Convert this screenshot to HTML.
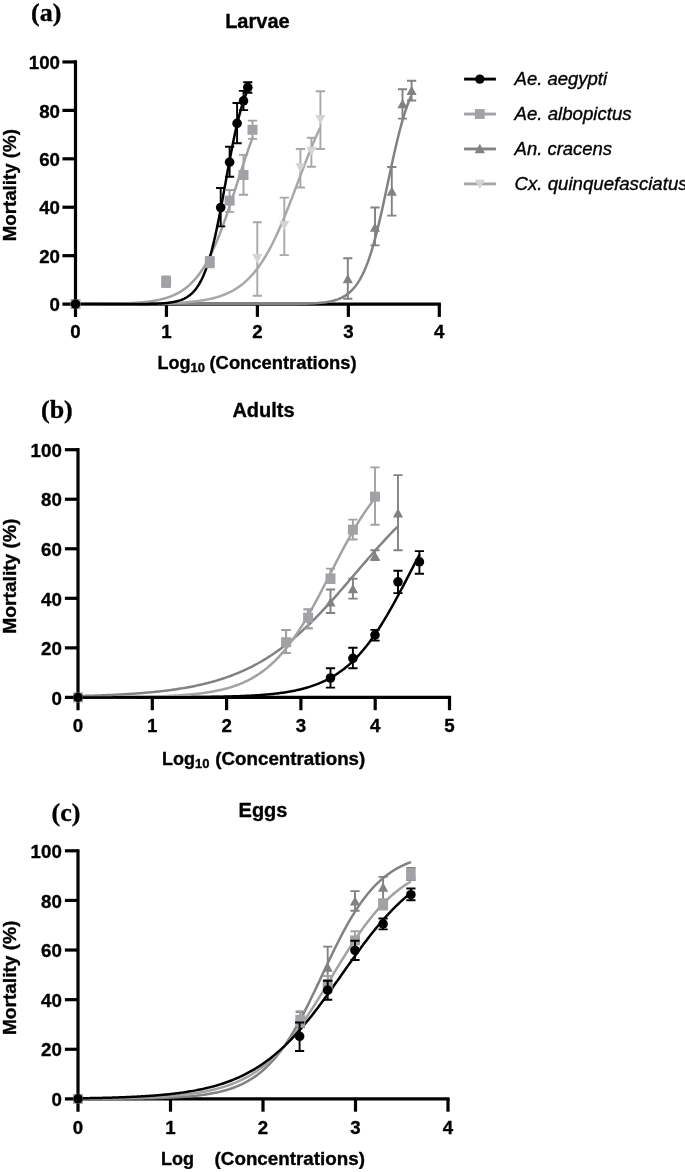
<!DOCTYPE html>
<html><head><meta charset="utf-8"><style>
html,body{margin:0;padding:0;background:#fff;width:685px;height:1172px;overflow:hidden}
svg{display:block}
</style></head><body>
<svg width="685" height="1172" viewBox="0 0 685 1172">
<rect width="685" height="1172" fill="#fff"/>
<path d="M75.50,60.35 V316.90" stroke="#000" stroke-width="3.2" fill="none"/>
<path d="M62.40,304.10 H440.90" stroke="#000" stroke-width="3.2" fill="none"/>
<path d="M62.40,255.67 H75.50" stroke="#000" stroke-width="3.2" fill="none"/>
<path d="M62.40,207.24 H75.50" stroke="#000" stroke-width="3.2" fill="none"/>
<path d="M62.40,158.81 H75.50" stroke="#000" stroke-width="3.2" fill="none"/>
<path d="M62.40,110.38 H75.50" stroke="#000" stroke-width="3.2" fill="none"/>
<path d="M62.40,61.95 H75.50" stroke="#000" stroke-width="3.2" fill="none"/>
<path d="M166.45,304.10 V316.90" stroke="#000" stroke-width="3.2" fill="none"/>
<path d="M257.40,304.10 V316.90" stroke="#000" stroke-width="3.2" fill="none"/>
<path d="M348.35,304.10 V316.90" stroke="#000" stroke-width="3.2" fill="none"/>
<path d="M439.30,304.10 V316.90" stroke="#000" stroke-width="3.2" fill="none"/>
<path d="M75.50,304.10 L76.90,304.10 L78.30,304.10 L79.70,304.10 L81.09,304.10 L82.49,304.10 L83.89,304.10 L85.29,304.10 L86.69,304.10 L88.09,304.10 L89.48,304.10 L90.88,304.10 L92.28,304.10 L93.68,304.10 L95.08,304.10 L96.48,304.10 L97.87,304.10 L99.27,304.10 L100.67,304.10 L102.07,304.10 L103.47,304.10 L104.87,304.10 L106.26,304.10 L107.66,304.10 L109.06,304.10 L110.46,304.10 L111.86,304.10 L113.26,304.10 L114.65,304.10 L116.05,304.10 L117.45,304.10 L118.85,304.10 L120.25,304.10 L121.65,304.10 L123.04,304.10 L124.44,304.10 L125.84,304.10 L127.24,304.10 L128.64,304.10 L130.04,304.10 L131.43,304.10 L132.83,304.10 L134.23,304.10 L135.63,304.10 L137.03,304.10 L138.43,304.10 L139.82,304.10 L141.22,304.10 L142.62,304.10 L144.02,304.10 L145.42,304.10 L146.82,304.10 L148.21,304.10 L149.61,304.10 L151.01,304.10 L152.41,304.10 L153.81,304.10 L155.21,304.10 L156.60,304.10 L158.00,304.10 L159.40,304.10 L160.80,304.10 L162.20,304.10 L163.60,304.10 L164.99,304.10 L166.39,304.10 L167.79,304.10 L169.19,304.10 L170.59,304.10 L171.99,304.10 L173.38,304.10 L174.78,304.10 L176.18,304.10 L177.58,304.10 L178.98,304.10 L180.38,304.10 L181.78,304.10 L183.17,304.10 L184.57,304.10 L185.97,304.10 L187.37,304.10 L188.77,304.10 L190.17,304.10 L191.56,304.10 L192.96,304.10 L194.36,304.10 L195.76,304.10 L197.16,304.10 L198.56,304.10 L199.95,304.10 L201.35,304.10 L202.75,304.10 L204.15,304.10 L205.55,304.10 L206.95,304.10 L208.34,304.10 L209.74,304.10 L211.14,304.10 L212.54,304.10 L213.94,304.10 L215.34,304.10 L216.73,304.10 L218.13,304.10 L219.53,304.10 L220.93,304.10 L222.33,304.10 L223.73,304.10 L225.12,304.10 L226.52,304.10 L227.92,304.10 L229.32,304.10 L230.72,304.10 L232.12,304.10 L233.51,304.10 L234.91,304.10 L236.31,304.10 L237.71,304.10 L239.11,304.10 L240.51,304.10 L241.90,304.10 L243.30,304.10 L244.70,304.10 L246.10,304.10 L247.50,304.10 L248.90,304.10 L250.29,304.09 L251.69,304.09 L253.09,304.09 L254.49,304.09 L255.89,304.09 L257.29,304.09 L258.68,304.09 L260.08,304.09 L261.48,304.09 L262.88,304.09 L264.28,304.08 L265.68,304.08 L267.07,304.08 L268.47,304.08 L269.87,304.08 L271.27,304.07 L272.67,304.07 L274.07,304.07 L275.46,304.06 L276.86,304.06 L278.26,304.05 L279.66,304.05 L281.06,304.04 L282.46,304.03 L283.86,304.03 L285.25,304.02 L286.65,304.01 L288.05,304.00 L289.45,303.99 L290.85,303.97 L292.25,303.96 L293.64,303.94 L295.04,303.93 L296.44,303.91 L297.84,303.88 L299.24,303.86 L300.64,303.83 L302.03,303.80 L303.43,303.76 L304.83,303.73 L306.23,303.68 L307.63,303.63 L309.03,303.58 L310.42,303.52 L311.82,303.46 L313.22,303.38 L314.62,303.30 L316.02,303.21 L317.42,303.10 L318.81,302.99 L320.21,302.86 L321.61,302.72 L323.01,302.56 L324.41,302.39 L325.81,302.19 L327.20,301.97 L328.60,301.73 L330.00,301.46 L331.40,301.16 L332.80,300.83 L334.20,300.46 L335.59,300.04 L336.99,299.59 L338.39,299.08 L339.79,298.51 L341.19,297.88 L342.59,297.19 L343.98,296.42 L345.38,295.56 L346.78,294.62 L348.18,293.57 L349.58,292.42 L350.98,291.15 L352.37,289.74 L353.77,288.20 L355.17,286.50 L356.57,284.63 L357.97,282.59 L359.37,280.35 L360.76,277.91 L362.16,275.26 L363.56,272.37 L364.96,269.24 L366.36,265.86 L367.76,262.21 L369.15,258.30 L370.55,254.11 L371.95,249.65 L373.35,244.91 L374.75,239.90 L376.15,234.62 L377.54,229.10 L378.94,223.34 L380.34,217.37 L381.74,211.21 L383.14,204.89 L384.54,198.45 L385.94,191.92 L387.33,185.33 L388.73,178.73 L390.13,172.16 L391.53,165.65 L392.93,159.24 L394.33,152.97 L395.72,146.86 L397.12,140.95 L398.52,135.26 L399.92,129.81 L401.32,124.62 L402.72,119.69 L404.11,115.03 L405.51,110.65 L406.91,106.54 L408.31,102.71 L409.71,99.15 L411.11,95.84" fill="none" stroke="#828282" stroke-width="2.5" stroke-linejoin="round"/>
<path d="M75.50,304.09 L76.52,304.08 L77.54,304.08 L78.56,304.08 L79.58,304.08 L80.60,304.08 L81.62,304.08 L82.64,304.08 L83.66,304.08 L84.67,304.08 L85.69,304.08 L86.71,304.08 L87.73,304.07 L88.75,304.07 L89.77,304.07 L90.79,304.07 L91.81,304.07 L92.83,304.07 L93.85,304.07 L94.87,304.07 L95.89,304.06 L96.91,304.06 L97.93,304.06 L98.95,304.06 L99.97,304.06 L100.98,304.06 L102.00,304.05 L103.02,304.05 L104.04,304.05 L105.06,304.05 L106.08,304.04 L107.10,304.04 L108.12,304.04 L109.14,304.04 L110.16,304.03 L111.18,304.03 L112.20,304.03 L113.22,304.02 L114.24,304.02 L115.26,304.02 L116.28,304.01 L117.30,304.01 L118.31,304.00 L119.33,304.00 L120.35,304.00 L121.37,303.99 L122.39,303.99 L123.41,303.98 L124.43,303.97 L125.45,303.97 L126.47,303.96 L127.49,303.96 L128.51,303.95 L129.53,303.94 L130.55,303.94 L131.57,303.93 L132.59,303.92 L133.61,303.91 L134.63,303.90 L135.64,303.90 L136.66,303.89 L137.68,303.88 L138.70,303.87 L139.72,303.86 L140.74,303.84 L141.76,303.83 L142.78,303.82 L143.80,303.81 L144.82,303.80 L145.84,303.78 L146.86,303.77 L147.88,303.75 L148.90,303.74 L149.92,303.72 L150.94,303.70 L151.95,303.68 L152.97,303.66 L153.99,303.65 L155.01,303.62 L156.03,303.60 L157.05,303.58 L158.07,303.56 L159.09,303.53 L160.11,303.51 L161.13,303.48 L162.15,303.45 L163.17,303.42 L164.19,303.39 L165.21,303.36 L166.23,303.32 L167.25,303.29 L168.27,303.25 L169.28,303.21 L170.30,303.17 L171.32,303.13 L172.34,303.09 L173.36,303.04 L174.38,302.99 L175.40,302.94 L176.42,302.89 L177.44,302.84 L178.46,302.78 L179.48,302.72 L180.50,302.66 L181.52,302.59 L182.54,302.52 L183.56,302.45 L184.58,302.38 L185.59,302.30 L186.61,302.22 L187.63,302.13 L188.65,302.04 L189.67,301.95 L190.69,301.86 L191.71,301.75 L192.73,301.65 L193.75,301.54 L194.77,301.42 L195.79,301.30 L196.81,301.18 L197.83,301.04 L198.85,300.91 L199.87,300.76 L200.89,300.61 L201.91,300.46 L202.92,300.29 L203.94,300.12 L204.96,299.95 L205.98,299.76 L207.00,299.57 L208.02,299.36 L209.04,299.15 L210.06,298.93 L211.08,298.70 L212.10,298.46 L213.12,298.21 L214.14,297.95 L215.16,297.68 L216.18,297.39 L217.20,297.09 L218.22,296.78 L219.24,296.46 L220.25,296.13 L221.27,295.77 L222.29,295.41 L223.31,295.03 L224.33,294.63 L225.35,294.22 L226.37,293.79 L227.39,293.34 L228.41,292.87 L229.43,292.38 L230.45,291.88 L231.47,291.35 L232.49,290.80 L233.51,290.23 L234.53,289.63 L235.55,289.02 L236.56,288.37 L237.58,287.71 L238.60,287.01 L239.62,286.29 L240.64,285.54 L241.66,284.76 L242.68,283.96 L243.70,283.12 L244.72,282.25 L245.74,281.35 L246.76,280.41 L247.78,279.44 L248.80,278.44 L249.82,277.40 L250.84,276.32 L251.86,275.21 L252.88,274.05 L253.89,272.86 L254.91,271.63 L255.93,270.36 L256.95,269.04 L257.97,267.69 L258.99,266.29 L260.01,264.84 L261.03,263.35 L262.05,261.82 L263.07,260.25 L264.09,258.62 L265.11,256.96 L266.13,255.24 L267.15,253.48 L268.17,251.67 L269.19,249.82 L270.21,247.92 L271.22,245.98 L272.24,243.99 L273.26,241.95 L274.28,239.87 L275.30,237.75 L276.32,235.58 L277.34,233.37 L278.36,231.12 L279.38,228.83 L280.40,226.50 L281.42,224.13 L282.44,221.73 L283.46,219.29 L284.48,216.82 L285.50,214.32 L286.52,211.79 L287.53,209.23 L288.55,206.65 L289.57,204.04 L290.59,201.42 L291.61,198.77 L292.63,196.12 L293.65,193.44 L294.67,190.76 L295.69,188.07 L296.71,185.38 L297.73,182.68 L298.75,179.99 L299.77,177.30 L300.79,174.61 L301.81,171.93 L302.83,169.26 L303.85,166.61 L304.86,163.97 L305.88,161.35 L306.90,158.75 L307.92,156.17 L308.94,153.62 L309.96,151.10 L310.98,148.60 L312.00,146.14 L313.02,143.71 L314.04,141.32 L315.06,138.96 L316.08,136.64 L317.10,134.36 L318.12,132.12 L319.14,129.92 L320.16,127.76" fill="none" stroke="#a8a8a8" stroke-width="2.5" stroke-linejoin="round"/>
<path d="M75.50,304.04 L76.24,304.04 L76.98,304.04 L77.72,304.03 L78.46,304.03 L79.19,304.03 L79.93,304.03 L80.67,304.02 L81.41,304.02 L82.15,304.02 L82.89,304.01 L83.63,304.01 L84.37,304.01 L85.11,304.00 L85.85,304.00 L86.58,303.99 L87.32,303.99 L88.06,303.99 L88.80,303.98 L89.54,303.98 L90.28,303.97 L91.02,303.97 L91.76,303.96 L92.50,303.96 L93.24,303.95 L93.97,303.95 L94.71,303.94 L95.45,303.93 L96.19,303.93 L96.93,303.92 L97.67,303.91 L98.41,303.91 L99.15,303.90 L99.89,303.89 L100.62,303.88 L101.36,303.88 L102.10,303.87 L102.84,303.86 L103.58,303.85 L104.32,303.84 L105.06,303.83 L105.80,303.82 L106.54,303.81 L107.28,303.80 L108.01,303.78 L108.75,303.77 L109.49,303.76 L110.23,303.75 L110.97,303.73 L111.71,303.72 L112.45,303.70 L113.19,303.69 L113.93,303.67 L114.67,303.66 L115.40,303.64 L116.14,303.62 L116.88,303.60 L117.62,303.58 L118.36,303.56 L119.10,303.54 L119.84,303.52 L120.58,303.50 L121.32,303.47 L122.06,303.45 L122.79,303.43 L123.53,303.40 L124.27,303.37 L125.01,303.34 L125.75,303.31 L126.49,303.28 L127.23,303.25 L127.97,303.22 L128.71,303.19 L129.44,303.15 L130.18,303.11 L130.92,303.08 L131.66,303.04 L132.40,303.00 L133.14,302.95 L133.88,302.91 L134.62,302.86 L135.36,302.82 L136.10,302.77 L136.83,302.72 L137.57,302.66 L138.31,302.61 L139.05,302.55 L139.79,302.49 L140.53,302.43 L141.27,302.36 L142.01,302.30 L142.75,302.23 L143.49,302.16 L144.22,302.08 L144.96,302.00 L145.70,301.92 L146.44,301.84 L147.18,301.75 L147.92,301.66 L148.66,301.57 L149.40,301.47 L150.14,301.37 L150.87,301.27 L151.61,301.16 L152.35,301.05 L153.09,300.93 L153.83,300.81 L154.57,300.68 L155.31,300.55 L156.05,300.42 L156.79,300.28 L157.53,300.13 L158.26,299.98 L159.00,299.83 L159.74,299.66 L160.48,299.50 L161.22,299.32 L161.96,299.14 L162.70,298.95 L163.44,298.76 L164.18,298.55 L164.92,298.35 L165.65,298.13 L166.39,297.90 L167.13,297.67 L167.87,297.43 L168.61,297.18 L169.35,296.92 L170.09,296.65 L170.83,296.37 L171.57,296.08 L172.30,295.78 L173.04,295.47 L173.78,295.15 L174.52,294.81 L175.26,294.47 L176.00,294.11 L176.74,293.74 L177.48,293.36 L178.22,292.96 L178.96,292.55 L179.69,292.12 L180.43,291.68 L181.17,291.23 L181.91,290.76 L182.65,290.27 L183.39,289.77 L184.13,289.25 L184.87,288.71 L185.61,288.15 L186.35,287.58 L187.08,286.98 L187.82,286.37 L188.56,285.73 L189.30,285.08 L190.04,284.40 L190.78,283.70 L191.52,282.98 L192.26,282.24 L193.00,281.47 L193.74,280.68 L194.47,279.87 L195.21,279.02 L195.95,278.16 L196.69,277.26 L197.43,276.34 L198.17,275.40 L198.91,274.42 L199.65,273.42 L200.39,272.39 L201.12,271.33 L201.86,270.24 L202.60,269.11 L203.34,267.96 L204.08,266.78 L204.82,265.56 L205.56,264.32 L206.30,263.04 L207.04,261.73 L207.78,260.38 L208.51,259.01 L209.25,257.60 L209.99,256.15 L210.73,254.67 L211.47,253.16 L212.21,251.62 L212.95,250.04 L213.69,248.43 L214.43,246.78 L215.17,245.11 L215.90,243.40 L216.64,241.65 L217.38,239.88 L218.12,238.07 L218.86,236.23 L219.60,234.36 L220.34,232.46 L221.08,230.53 L221.82,228.57 L222.55,226.58 L223.29,224.56 L224.03,222.52 L224.77,220.45 L225.51,218.36 L226.25,216.25 L226.99,214.11 L227.73,211.95 L228.47,209.78 L229.21,207.58 L229.94,205.37 L230.68,203.14 L231.42,200.90 L232.16,198.64 L232.90,196.38 L233.64,194.10 L234.38,191.82 L235.12,189.53 L235.86,187.23 L236.60,184.93 L237.33,182.64 L238.07,180.34 L238.81,178.04 L239.55,175.75 L240.29,173.46 L241.03,171.18 L241.77,168.91 L242.51,166.64 L243.25,164.39 L243.98,162.15 L244.72,159.93 L245.46,157.72 L246.20,155.53 L246.94,153.36 L247.68,151.21 L248.42,149.08 L249.16,146.98 L249.90,144.89 L250.64,142.83 L251.37,140.80 L252.11,138.80 L252.85,136.82" fill="none" stroke="#a2a2a6" stroke-width="2.5" stroke-linejoin="round"/>
<path d="M75.50,304.10 L76.22,304.10 L76.94,304.10 L77.66,304.10 L78.38,304.10 L79.10,304.10 L79.82,304.10 L80.54,304.10 L81.26,304.10 L81.98,304.10 L82.70,304.10 L83.42,304.10 L84.14,304.10 L84.86,304.10 L85.58,304.10 L86.30,304.10 L87.02,304.10 L87.74,304.10 L88.46,304.10 L89.18,304.10 L89.90,304.10 L90.62,304.10 L91.34,304.10 L92.06,304.10 L92.78,304.10 L93.50,304.10 L94.22,304.10 L94.94,304.10 L95.66,304.10 L96.38,304.10 L97.10,304.10 L97.82,304.10 L98.54,304.10 L99.26,304.10 L99.98,304.10 L100.70,304.10 L101.42,304.10 L102.14,304.10 L102.86,304.10 L103.58,304.10 L104.30,304.10 L105.02,304.10 L105.74,304.10 L106.46,304.10 L107.18,304.10 L107.90,304.09 L108.62,304.09 L109.34,304.09 L110.06,304.09 L110.78,304.09 L111.50,304.09 L112.22,304.09 L112.94,304.09 L113.66,304.09 L114.38,304.09 L115.10,304.09 L115.82,304.09 L116.54,304.09 L117.26,304.09 L117.98,304.09 L118.70,304.09 L119.42,304.09 L120.14,304.08 L120.86,304.08 L121.58,304.08 L122.30,304.08 L123.02,304.08 L123.74,304.08 L124.46,304.08 L125.18,304.07 L125.90,304.07 L126.62,304.07 L127.34,304.07 L128.06,304.07 L128.78,304.06 L129.50,304.06 L130.22,304.06 L130.94,304.06 L131.66,304.05 L132.38,304.05 L133.10,304.05 L133.82,304.04 L134.54,304.04 L135.26,304.04 L135.98,304.03 L136.70,304.03 L137.42,304.02 L138.14,304.02 L138.86,304.01 L139.58,304.01 L140.30,304.00 L141.02,303.99 L141.74,303.99 L142.46,303.98 L143.18,303.97 L143.90,303.96 L144.62,303.95 L145.34,303.94 L146.06,303.93 L146.78,303.92 L147.50,303.91 L148.22,303.89 L148.94,303.88 L149.66,303.86 L150.38,303.85 L151.10,303.83 L151.82,303.81 L152.54,303.79 L153.26,303.77 L153.98,303.75 L154.70,303.72 L155.42,303.70 L156.14,303.67 L156.86,303.64 L157.58,303.61 L158.30,303.58 L159.02,303.54 L159.74,303.51 L160.46,303.47 L161.18,303.42 L161.90,303.38 L162.62,303.33 L163.34,303.28 L164.06,303.22 L164.78,303.16 L165.50,303.10 L166.22,303.03 L166.94,302.96 L167.66,302.88 L168.38,302.80 L169.10,302.71 L169.82,302.61 L170.54,302.51 L171.26,302.40 L171.98,302.29 L172.70,302.17 L173.42,302.04 L174.14,301.90 L174.86,301.75 L175.58,301.59 L176.30,301.42 L177.02,301.24 L177.74,301.05 L178.46,300.85 L179.18,300.63 L179.90,300.40 L180.62,300.15 L181.34,299.89 L182.06,299.60 L182.78,299.30 L183.50,298.99 L184.22,298.65 L184.94,298.28 L185.66,297.90 L186.38,297.49 L187.10,297.05 L187.82,296.59 L188.54,296.09 L189.26,295.57 L189.98,295.01 L190.70,294.41 L191.42,293.78 L192.14,293.11 L192.86,292.40 L193.58,291.65 L194.30,290.85 L195.02,290.00 L195.74,289.10 L196.46,288.15 L197.18,287.14 L197.90,286.07 L198.62,284.94 L199.34,283.74 L200.06,282.48 L200.78,281.15 L201.50,279.75 L202.22,278.27 L202.94,276.71 L203.66,275.07 L204.38,273.35 L205.10,271.54 L205.82,269.64 L206.54,267.65 L207.26,265.56 L207.98,263.38 L208.70,261.10 L209.42,258.73 L210.14,256.25 L210.86,253.67 L211.58,250.99 L212.30,248.22 L213.02,245.34 L213.74,242.36 L214.46,239.28 L215.18,236.11 L215.90,232.85 L216.62,229.50 L217.34,226.06 L218.06,222.54 L218.78,218.94 L219.50,215.27 L220.22,211.54 L220.94,207.75 L221.66,203.91 L222.38,200.02 L223.10,196.10 L223.82,192.15 L224.54,188.18 L225.26,184.20 L225.98,180.22 L226.70,176.24 L227.42,172.28 L228.14,168.34 L228.86,164.43 L229.58,160.56 L230.30,156.74 L231.02,152.97 L231.74,149.26 L232.46,145.62 L233.18,142.06 L233.90,138.57 L234.62,135.17 L235.34,131.85 L236.06,128.62 L236.78,125.49 L237.50,122.46 L238.22,119.52 L238.94,116.68 L239.66,113.94 L240.38,111.31 L241.10,108.77 L241.82,106.34 L242.54,104.00 L243.26,101.76 L243.98,99.62 L244.70,97.58 L245.42,95.62 L246.14,93.76 L246.86,91.98 L247.58,90.30 L248.31,88.69" fill="none" stroke="#000" stroke-width="2.5" stroke-linejoin="round"/>
<path d="M252.70,222.20 H261.90 M257.30,222.20 V295.70 M252.70,295.70 H261.90" stroke="#a8a8a8" stroke-width="1.9" fill="none"/>
<path d="M257.30,263.26 L262.40,254.06 L252.20,254.06 Z" fill="#d4d4d4"/>
<path d="M279.70,197.60 H288.90 M284.30,197.60 V255.10 M279.70,255.10 H288.90" stroke="#a8a8a8" stroke-width="1.9" fill="none"/>
<path d="M284.30,230.16 L289.40,220.96 L279.20,220.96 Z" fill="#d4d4d4"/>
<path d="M295.80,149.00 H305.00 M300.40,149.00 V187.50 M295.80,187.50 H305.00" stroke="#a8a8a8" stroke-width="1.9" fill="none"/>
<path d="M300.40,172.36 L305.50,163.16 L295.30,163.16 Z" fill="#d4d4d4"/>
<path d="M306.80,137.80 H316.00 M311.40,137.80 V166.70 M306.80,166.70 H316.00" stroke="#a8a8a8" stroke-width="1.9" fill="none"/>
<path d="M311.40,156.06 L316.50,146.86 L306.30,146.86 Z" fill="#d4d4d4"/>
<path d="M315.80,91.20 H325.00 M320.40,91.20 V149.00 M315.80,149.00 H325.00" stroke="#a8a8a8" stroke-width="1.9" fill="none"/>
<path d="M320.40,124.26 L325.50,115.06 L315.30,115.06 Z" fill="#d4d4d4"/>
<path d="M343.20,258.20 H352.40 M347.80,258.20 V298.80 M343.20,298.80 H352.40" stroke="#828282" stroke-width="1.9" fill="none"/>
<path d="M347.80,273.94 L352.90,283.14 L342.70,283.14 Z" fill="#828282"/>
<path d="M370.40,207.50 H379.60 M375.00,207.50 V245.40 M370.40,245.40 H379.60" stroke="#828282" stroke-width="1.9" fill="none"/>
<path d="M375.00,222.64 L380.10,231.84 L369.90,231.84 Z" fill="#828282"/>
<path d="M387.20,167.00 H396.40 M391.80,167.00 V215.60 M387.20,215.60 H396.40" stroke="#828282" stroke-width="1.9" fill="none"/>
<path d="M391.80,186.44 L396.90,195.64 L386.70,195.64 Z" fill="#828282"/>
<path d="M397.90,89.20 H407.10 M402.50,89.20 V118.60 M397.90,118.60 H407.10" stroke="#828282" stroke-width="1.9" fill="none"/>
<path d="M402.50,99.04 L407.60,108.24 L397.40,108.24 Z" fill="#828282"/>
<path d="M407.00,80.70 H416.20 M411.60,80.70 V100.50 M407.00,100.50 H416.20" stroke="#828282" stroke-width="1.9" fill="none"/>
<path d="M411.60,85.84 L416.70,95.04 L406.50,95.04 Z" fill="#828282"/>
<path d="M161.50,276.50 H170.70 M166.10,276.50 V287.00 M161.50,287.00 H170.70" stroke="#a2a2a6" stroke-width="1.9" fill="none"/>
<rect x="161.10" y="276.70" width="10" height="10" fill="#a2a2a6"/>
<path d="M205.20,257.00 H214.40 M209.80,257.00 V267.40 M205.20,267.40 H214.40" stroke="#a2a2a6" stroke-width="1.9" fill="none"/>
<rect x="204.80" y="257.20" width="10" height="10" fill="#a2a2a6"/>
<path d="M225.00,190.00 H234.20 M229.60,190.00 V211.90 M225.00,211.90 H234.20" stroke="#a2a2a6" stroke-width="1.9" fill="none"/>
<rect x="224.60" y="195.60" width="10" height="10" fill="#a2a2a6"/>
<path d="M238.90,154.90 H248.10 M243.50,154.90 V194.80 M238.90,194.80 H248.10" stroke="#a2a2a6" stroke-width="1.9" fill="none"/>
<rect x="238.50" y="170.00" width="10" height="10" fill="#a2a2a6"/>
<path d="M247.90,120.60 H257.10 M252.50,120.60 V138.90 M247.90,138.90 H257.10" stroke="#a2a2a6" stroke-width="1.9" fill="none"/>
<rect x="247.50" y="124.80" width="10" height="10" fill="#a2a2a6"/>
<rect x="70.50" y="299.10" width="10" height="10" fill="#a2a2a6"/>
<circle cx="75.50" cy="304.10" r="4.8" fill="#000"/>
<path d="M216.10,188.00 H225.30 M220.70,188.00 V226.40 M216.10,226.40 H225.30" stroke="#000" stroke-width="1.9" fill="none"/>
<circle cx="220.70" cy="207.60" r="4.8" fill="#000"/>
<path d="M225.00,146.80 H234.20 M229.60,146.80 V176.70 M225.00,176.70 H234.20" stroke="#000" stroke-width="1.9" fill="none"/>
<circle cx="229.60" cy="162.20" r="4.8" fill="#000"/>
<path d="M232.50,103.00 H241.70 M237.10,103.00 V143.20 M232.50,143.20 H241.70" stroke="#000" stroke-width="1.9" fill="none"/>
<circle cx="237.10" cy="123.40" r="4.8" fill="#000"/>
<path d="M238.90,90.90 H248.10 M243.50,90.90 V110.10 M238.90,110.10 H248.10" stroke="#000" stroke-width="1.9" fill="none"/>
<circle cx="243.50" cy="100.90" r="4.8" fill="#000"/>
<path d="M243.20,82.20 H252.40 M247.80,82.20 V92.80 M243.20,92.80 H252.40" stroke="#000" stroke-width="1.9" fill="none"/>
<circle cx="247.80" cy="87.50" r="4.8" fill="#000"/>
<path d="M464.1,79.10 H495.9" stroke="#000" stroke-width="2.9"/>
<circle cx="479.80" cy="79.10" r="4.7" fill="#000"/>
<path d="M464.1,114.03 H495.9" stroke="#a2a2a6" stroke-width="2.9"/>
<rect x="474.90" y="109.13" width="9.8" height="9.8" fill="#a2a2a6"/>
<path d="M464.1,148.96 H495.9" stroke="#828282" stroke-width="2.9"/>
<path d="M479.80,143.79 L484.95,153.19 L474.65,153.19 Z" fill="#828282"/>
<path d="M464.1,183.89 H495.9" stroke="#a8a8a8" stroke-width="2.9"/>
<path d="M479.80,189.06 L484.95,179.66 L474.65,179.66 Z" fill="#d4d4d4"/>
<path d="M78.00,448.10 V710.20" stroke="#000" stroke-width="3.2" fill="none"/>
<path d="M64.90,697.40 H451.10" stroke="#000" stroke-width="3.2" fill="none"/>
<path d="M64.90,647.86 H78.00" stroke="#000" stroke-width="3.2" fill="none"/>
<path d="M64.90,598.32 H78.00" stroke="#000" stroke-width="3.2" fill="none"/>
<path d="M64.90,548.78 H78.00" stroke="#000" stroke-width="3.2" fill="none"/>
<path d="M64.90,499.24 H78.00" stroke="#000" stroke-width="3.2" fill="none"/>
<path d="M64.90,449.70 H78.00" stroke="#000" stroke-width="3.2" fill="none"/>
<path d="M152.30,697.40 V710.20" stroke="#000" stroke-width="3.2" fill="none"/>
<path d="M226.60,697.40 V710.20" stroke="#000" stroke-width="3.2" fill="none"/>
<path d="M300.90,697.40 V710.20" stroke="#000" stroke-width="3.2" fill="none"/>
<path d="M375.20,697.40 V710.20" stroke="#000" stroke-width="3.2" fill="none"/>
<path d="M449.50,697.40 V710.20" stroke="#000" stroke-width="3.2" fill="none"/>
<path d="M78.00,696.09 L79.33,696.05 L80.66,696.02 L81.99,695.98 L83.32,695.95 L84.66,695.91 L85.99,695.87 L87.32,695.83 L88.65,695.79 L89.98,695.75 L91.31,695.71 L92.64,695.67 L93.97,695.63 L95.31,695.58 L96.64,695.54 L97.97,695.49 L99.30,695.44 L100.63,695.39 L101.96,695.34 L103.29,695.29 L104.62,695.23 L105.96,695.18 L107.29,695.12 L108.62,695.07 L109.95,695.01 L111.28,694.95 L112.61,694.89 L113.94,694.82 L115.27,694.76 L116.61,694.69 L117.94,694.62 L119.27,694.55 L120.60,694.48 L121.93,694.41 L123.26,694.33 L124.59,694.26 L125.92,694.18 L127.25,694.10 L128.59,694.01 L129.92,693.93 L131.25,693.84 L132.58,693.75 L133.91,693.66 L135.24,693.57 L136.57,693.47 L137.90,693.37 L139.24,693.27 L140.57,693.17 L141.90,693.06 L143.23,692.95 L144.56,692.84 L145.89,692.73 L147.22,692.61 L148.55,692.49 L149.89,692.37 L151.22,692.25 L152.55,692.12 L153.88,691.99 L155.21,691.85 L156.54,691.71 L157.87,691.57 L159.20,691.43 L160.53,691.28 L161.87,691.13 L163.20,690.97 L164.53,690.81 L165.86,690.65 L167.19,690.48 L168.52,690.31 L169.85,690.14 L171.18,689.96 L172.52,689.77 L173.85,689.59 L175.18,689.39 L176.51,689.20 L177.84,689.00 L179.17,688.79 L180.50,688.58 L181.83,688.36 L183.17,688.14 L184.50,687.91 L185.83,687.68 L187.16,687.44 L188.49,687.20 L189.82,686.95 L191.15,686.70 L192.48,686.44 L193.82,686.17 L195.15,685.90 L196.48,685.62 L197.81,685.34 L199.14,685.05 L200.47,684.75 L201.80,684.44 L203.13,684.13 L204.46,683.81 L205.80,683.48 L207.13,683.15 L208.46,682.81 L209.79,682.46 L211.12,682.10 L212.45,681.74 L213.78,681.37 L215.11,680.99 L216.45,680.60 L217.78,680.20 L219.11,679.79 L220.44,679.38 L221.77,678.95 L223.10,678.52 L224.43,678.08 L225.76,677.62 L227.10,677.16 L228.43,676.69 L229.76,676.21 L231.09,675.72 L232.42,675.21 L233.75,674.70 L235.08,674.18 L236.41,673.64 L237.74,673.10 L239.08,672.54 L240.41,671.97 L241.74,671.40 L243.07,670.80 L244.40,670.20 L245.73,669.59 L247.06,668.96 L248.39,668.32 L249.73,667.67 L251.06,667.01 L252.39,666.33 L253.72,665.64 L255.05,664.94 L256.38,664.23 L257.71,663.50 L259.04,662.76 L260.38,662.00 L261.71,661.23 L263.04,660.45 L264.37,659.65 L265.70,658.84 L267.03,658.02 L268.36,657.18 L269.69,656.32 L271.03,655.45 L272.36,654.57 L273.69,653.67 L275.02,652.76 L276.35,651.84 L277.68,650.89 L279.01,649.94 L280.34,648.97 L281.67,647.98 L283.01,646.98 L284.34,645.96 L285.67,644.93 L287.00,643.88 L288.33,642.82 L289.66,641.75 L290.99,640.65 L292.32,639.55 L293.66,638.43 L294.99,637.29 L296.32,636.14 L297.65,634.97 L298.98,633.79 L300.31,632.60 L301.64,631.39 L302.97,630.16 L304.31,628.93 L305.64,627.67 L306.97,626.41 L308.30,625.13 L309.63,623.84 L310.96,622.53 L312.29,621.21 L313.62,619.88 L314.96,618.54 L316.29,617.18 L317.62,615.81 L318.95,614.43 L320.28,613.04 L321.61,611.63 L322.94,610.22 L324.27,608.80 L325.60,607.36 L326.94,605.92 L328.27,604.46 L329.60,603.00 L330.93,601.53 L332.26,600.05 L333.59,598.56 L334.92,597.06 L336.25,595.56 L337.59,594.05 L338.92,592.53 L340.25,591.01 L341.58,589.48 L342.91,587.95 L344.24,586.41 L345.57,584.87 L346.90,583.33 L348.24,581.78 L349.57,580.23 L350.90,578.68 L352.23,577.12 L353.56,575.57 L354.89,574.01 L356.22,572.46 L357.55,570.90 L358.88,569.35 L360.22,567.79 L361.55,566.24 L362.88,564.69 L364.21,563.15 L365.54,561.60 L366.87,560.06 L368.20,558.53 L369.53,557.00 L370.87,555.47 L372.20,553.95 L373.53,552.44 L374.86,550.93 L376.19,549.43 L377.52,547.94 L378.85,546.45 L380.18,544.98 L381.52,543.51 L382.85,542.05 L384.18,540.60 L385.51,539.16 L386.84,537.73 L388.17,536.31 L389.50,534.90 L390.83,533.50 L392.17,532.11 L393.50,530.73 L394.83,529.37 L396.16,528.02 L397.49,526.68" fill="none" stroke="#828282" stroke-width="2.5" stroke-linejoin="round"/>
<path d="M78.00,697.32 L79.24,697.31 L80.48,697.31 L81.72,697.30 L82.95,697.30 L84.19,697.30 L85.43,697.29 L86.67,697.29 L87.91,697.28 L89.14,697.28 L90.38,697.27 L91.62,697.27 L92.86,697.26 L94.10,697.26 L95.34,697.25 L96.58,697.25 L97.81,697.24 L99.05,697.23 L100.29,697.23 L101.53,697.22 L102.77,697.21 L104.00,697.21 L105.24,697.20 L106.48,697.19 L107.72,697.18 L108.96,697.17 L110.20,697.17 L111.44,697.16 L112.67,697.15 L113.91,697.14 L115.15,697.13 L116.39,697.11 L117.63,697.10 L118.87,697.09 L120.10,697.08 L121.34,697.07 L122.58,697.05 L123.82,697.04 L125.06,697.02 L126.30,697.01 L127.53,696.99 L128.77,696.98 L130.01,696.96 L131.25,696.94 L132.49,696.93 L133.72,696.91 L134.96,696.89 L136.20,696.87 L137.44,696.85 L138.68,696.82 L139.92,696.80 L141.16,696.78 L142.39,696.75 L143.63,696.73 L144.87,696.70 L146.11,696.67 L147.35,696.64 L148.58,696.61 L149.82,696.58 L151.06,696.55 L152.30,696.51 L153.54,696.48 L154.78,696.44 L156.01,696.40 L157.25,696.36 L158.49,696.32 L159.73,696.28 L160.97,696.24 L162.21,696.19 L163.44,696.14 L164.68,696.09 L165.92,696.04 L167.16,695.99 L168.40,695.93 L169.64,695.87 L170.88,695.81 L172.11,695.75 L173.35,695.68 L174.59,695.61 L175.83,695.54 L177.07,695.47 L178.31,695.39 L179.54,695.31 L180.78,695.23 L182.02,695.15 L183.26,695.06 L184.50,694.96 L185.74,694.87 L186.97,694.77 L188.21,694.66 L189.45,694.56 L190.69,694.44 L191.93,694.33 L193.16,694.21 L194.40,694.08 L195.64,693.95 L196.88,693.81 L198.12,693.67 L199.36,693.53 L200.59,693.37 L201.83,693.22 L203.07,693.05 L204.31,692.88 L205.55,692.70 L206.79,692.52 L208.03,692.33 L209.26,692.13 L210.50,691.93 L211.74,691.71 L212.98,691.49 L214.22,691.26 L215.46,691.02 L216.69,690.77 L217.93,690.52 L219.17,690.25 L220.41,689.97 L221.65,689.69 L222.88,689.39 L224.12,689.08 L225.36,688.76 L226.60,688.43 L227.84,688.08 L229.08,687.72 L230.31,687.35 L231.55,686.97 L232.79,686.57 L234.03,686.16 L235.27,685.73 L236.51,685.29 L237.74,684.83 L238.98,684.35 L240.22,683.86 L241.46,683.35 L242.70,682.82 L243.94,682.28 L245.17,681.71 L246.41,681.13 L247.65,680.52 L248.89,679.90 L250.13,679.25 L251.37,678.58 L252.60,677.89 L253.84,677.17 L255.08,676.43 L256.32,675.67 L257.56,674.88 L258.80,674.06 L260.03,673.22 L261.27,672.36 L262.51,671.46 L263.75,670.54 L264.99,669.59 L266.23,668.61 L267.46,667.59 L268.70,666.55 L269.94,665.48 L271.18,664.38 L272.42,663.24 L273.66,662.07 L274.89,660.87 L276.13,659.63 L277.37,658.36 L278.61,657.06 L279.85,655.72 L281.09,654.34 L282.32,652.93 L283.56,651.49 L284.80,650.00 L286.04,648.48 L287.28,646.93 L288.52,645.34 L289.75,643.71 L290.99,642.05 L292.23,640.35 L293.47,638.61 L294.71,636.84 L295.95,635.03 L297.19,633.18 L298.42,631.30 L299.66,629.39 L300.90,627.44 L302.14,625.46 L303.38,623.44 L304.62,621.40 L305.85,619.32 L307.09,617.21 L308.33,615.08 L309.57,612.91 L310.81,610.72 L312.04,608.50 L313.28,606.26 L314.52,603.99 L315.76,601.70 L317.00,599.39 L318.24,597.06 L319.48,594.72 L320.71,592.36 L321.95,589.98 L323.19,587.60 L324.43,585.20 L325.67,582.79 L326.90,580.38 L328.14,577.96 L329.38,575.54 L330.62,573.11 L331.86,570.69 L333.10,568.27 L334.33,565.85 L335.57,563.44 L336.81,561.04 L338.05,558.64 L339.29,556.26 L340.53,553.89 L341.76,551.53 L343.00,549.20 L344.24,546.87 L345.48,544.57 L346.72,542.29 L347.96,540.03 L349.19,537.80 L350.43,535.59 L351.67,533.41 L352.91,531.25 L354.15,529.13 L355.39,527.03 L356.62,524.96 L357.86,522.93 L359.10,520.92 L360.34,518.95 L361.58,517.02 L362.82,515.12 L364.06,513.25 L365.29,511.42 L366.53,509.62 L367.77,507.86 L369.01,506.14 L370.25,504.45 L371.49,502.80 L372.72,501.18 L373.96,499.61 L375.20,498.06" fill="none" stroke="#a2a2a6" stroke-width="2.5" stroke-linejoin="round"/>
<path d="M78.00,697.39 L79.42,697.39 L80.85,697.39 L82.27,697.39 L83.70,697.39 L85.12,697.39 L86.54,697.39 L87.97,697.39 L89.39,697.39 L90.82,697.39 L92.24,697.39 L93.66,697.39 L95.09,697.39 L96.51,697.39 L97.94,697.38 L99.36,697.38 L100.79,697.38 L102.21,697.38 L103.63,697.38 L105.06,697.38 L106.48,697.38 L107.91,697.38 L109.33,697.38 L110.75,697.38 L112.18,697.38 L113.60,697.37 L115.03,697.37 L116.45,697.37 L117.87,697.37 L119.30,697.37 L120.72,697.37 L122.15,697.37 L123.57,697.37 L124.99,697.36 L126.42,697.36 L127.84,697.36 L129.27,697.36 L130.69,697.36 L132.12,697.36 L133.54,697.35 L134.96,697.35 L136.39,697.35 L137.81,697.35 L139.24,697.34 L140.66,697.34 L142.08,697.34 L143.51,697.34 L144.93,697.33 L146.36,697.33 L147.78,697.33 L149.20,697.32 L150.63,697.32 L152.05,697.32 L153.48,697.31 L154.90,697.31 L156.32,697.31 L157.75,697.30 L159.17,697.30 L160.60,697.29 L162.02,697.29 L163.44,697.28 L164.87,697.28 L166.29,697.27 L167.72,697.27 L169.14,697.26 L170.57,697.25 L171.99,697.25 L173.41,697.24 L174.84,697.23 L176.26,697.22 L177.69,697.22 L179.11,697.21 L180.53,697.20 L181.96,697.19 L183.38,697.18 L184.81,697.17 L186.23,697.16 L187.65,697.15 L189.08,697.14 L190.50,697.13 L191.93,697.11 L193.35,697.10 L194.77,697.09 L196.20,697.07 L197.62,697.06 L199.05,697.04 L200.47,697.03 L201.90,697.01 L203.32,696.99 L204.74,696.98 L206.17,696.96 L207.59,696.94 L209.02,696.92 L210.44,696.89 L211.86,696.87 L213.29,696.85 L214.71,696.82 L216.14,696.80 L217.56,696.77 L218.98,696.74 L220.41,696.71 L221.83,696.68 L223.26,696.65 L224.68,696.61 L226.10,696.58 L227.53,696.54 L228.95,696.50 L230.38,696.46 L231.80,696.42 L233.23,696.37 L234.65,696.33 L236.07,696.28 L237.50,696.23 L238.92,696.18 L240.35,696.12 L241.77,696.06 L243.19,696.00 L244.62,695.94 L246.04,695.87 L247.47,695.81 L248.89,695.73 L250.31,695.66 L251.74,695.58 L253.16,695.50 L254.59,695.41 L256.01,695.33 L257.43,695.23 L258.86,695.14 L260.28,695.03 L261.71,694.93 L263.13,694.82 L264.55,694.70 L265.98,694.58 L267.40,694.45 L268.83,694.32 L270.25,694.19 L271.68,694.04 L273.10,693.89 L274.52,693.74 L275.95,693.57 L277.37,693.40 L278.80,693.22 L280.22,693.04 L281.64,692.84 L283.07,692.64 L284.49,692.43 L285.92,692.21 L287.34,691.98 L288.76,691.74 L290.19,691.49 L291.61,691.23 L293.04,690.96 L294.46,690.68 L295.88,690.38 L297.31,690.07 L298.73,689.75 L300.16,689.41 L301.58,689.07 L303.01,688.70 L304.43,688.32 L305.85,687.93 L307.28,687.52 L308.70,687.09 L310.13,686.64 L311.55,686.18 L312.97,685.69 L314.40,685.19 L315.82,684.66 L317.25,684.12 L318.67,683.55 L320.09,682.96 L321.52,682.35 L322.94,681.71 L324.37,681.04 L325.79,680.36 L327.21,679.64 L328.64,678.90 L330.06,678.12 L331.49,677.32 L332.91,676.49 L334.33,675.63 L335.76,674.73 L337.18,673.80 L338.61,672.84 L340.03,671.84 L341.46,670.81 L342.88,669.74 L344.30,668.64 L345.73,667.49 L347.15,666.31 L348.58,665.08 L350.00,663.82 L351.42,662.51 L352.85,661.17 L354.27,659.78 L355.70,658.34 L357.12,656.86 L358.54,655.34 L359.97,653.77 L361.39,652.16 L362.82,650.50 L364.24,648.79 L365.66,647.04 L367.09,645.24 L368.51,643.39 L369.94,641.50 L371.36,639.56 L372.79,637.58 L374.21,635.54 L375.63,633.47 L377.06,631.34 L378.48,629.18 L379.91,626.97 L381.33,624.72 L382.75,622.42 L384.18,620.09 L385.60,617.71 L387.03,615.30 L388.45,612.86 L389.87,610.37 L391.30,607.86 L392.72,605.31 L394.15,602.74 L395.57,600.14 L396.99,597.51 L398.42,594.86 L399.84,592.19 L401.27,589.50 L402.69,586.80 L404.12,584.08 L405.54,581.36 L406.96,578.62 L408.39,575.89 L409.81,573.14 L411.24,570.40 L412.66,567.67 L414.08,564.94 L415.51,562.21 L416.93,559.50 L418.36,556.80 L419.78,554.12" fill="none" stroke="#000" stroke-width="2.5" stroke-linejoin="round"/>
<path d="M281.50,630.00 H290.70 M286.10,630.00 V652.90 M281.50,652.90 H290.70" stroke="#828282" stroke-width="1.9" fill="none"/>
<path d="M286.10,637.14 L291.20,646.34 L281.00,646.34 Z" fill="#828282"/>
<path d="M303.50,609.40 H312.70 M308.10,609.40 V628.40 M303.50,628.40 H312.70" stroke="#828282" stroke-width="1.9" fill="none"/>
<path d="M308.10,612.64 L313.20,621.84 L303.00,621.84 Z" fill="#828282"/>
<path d="M325.90,589.50 H335.10 M330.50,589.50 V613.00 M325.90,613.00 H335.10" stroke="#828282" stroke-width="1.9" fill="none"/>
<path d="M330.50,597.24 L335.60,606.44 L325.40,606.44 Z" fill="#828282"/>
<path d="M348.30,578.70 H357.50 M352.90,578.70 V598.60 M348.30,598.60 H357.50" stroke="#828282" stroke-width="1.9" fill="none"/>
<path d="M352.90,584.04 L358.00,593.24 L347.80,593.24 Z" fill="#828282"/>
<path d="M370.40,550.20 H379.60 M375.00,550.20 V560.00 M370.40,560.00 H379.60" stroke="#828282" stroke-width="1.9" fill="none"/>
<path d="M375.00,551.24 L380.10,560.44 L369.90,560.44 Z" fill="#828282"/>
<path d="M393.40,475.10 H402.60 M398.00,475.10 V550.20 M393.40,550.20 H402.60" stroke="#828282" stroke-width="1.9" fill="none"/>
<path d="M398.00,508.34 L403.10,517.54 L392.90,517.54 Z" fill="#828282"/>
<path d="M281.50,629.90 H290.70 M286.10,629.90 V652.90 M281.50,652.90 H290.70" stroke="#a2a2a6" stroke-width="1.9" fill="none"/>
<rect x="281.10" y="637.20" width="10" height="10" fill="#a2a2a6"/>
<path d="M303.50,609.40 H312.70 M308.10,609.40 V628.40 M303.50,628.40 H312.70" stroke="#a2a2a6" stroke-width="1.9" fill="none"/>
<rect x="303.10" y="612.70" width="10" height="10" fill="#a2a2a6"/>
<path d="M325.90,568.60 H335.10 M330.50,568.60 V583.00 M325.90,583.00 H335.10" stroke="#a2a2a6" stroke-width="1.9" fill="none"/>
<rect x="325.50" y="573.40" width="10" height="10" fill="#a2a2a6"/>
<path d="M348.30,519.60 H357.50 M352.90,519.60 V539.50 M348.30,539.50 H357.50" stroke="#a2a2a6" stroke-width="1.9" fill="none"/>
<rect x="347.90" y="524.70" width="10" height="10" fill="#a2a2a6"/>
<path d="M370.40,467.40 H379.60 M375.00,467.40 V524.80 M370.40,524.80 H379.60" stroke="#a2a2a6" stroke-width="1.9" fill="none"/>
<rect x="370.00" y="491.60" width="10" height="10" fill="#a2a2a6"/>
<rect x="73.00" y="692.40" width="10" height="10" fill="#a2a2a6"/>
<circle cx="78.00" cy="697.40" r="4.8" fill="#000"/>
<path d="M325.90,668.20 H335.10 M330.50,668.20 V687.60 M325.90,687.60 H335.10" stroke="#000" stroke-width="1.9" fill="none"/>
<circle cx="330.50" cy="678.00" r="4.8" fill="#000"/>
<path d="M348.30,647.70 H357.50 M352.90,647.70 V668.20 M348.30,668.20 H357.50" stroke="#000" stroke-width="1.9" fill="none"/>
<circle cx="352.90" cy="658.40" r="4.8" fill="#000"/>
<path d="M370.40,629.90 H379.60 M375.00,629.90 V640.60 M370.40,640.60 H379.60" stroke="#000" stroke-width="1.9" fill="none"/>
<circle cx="375.00" cy="635.10" r="4.8" fill="#000"/>
<path d="M393.40,570.80 H402.60 M398.00,570.80 V593.10 M393.40,593.10 H402.60" stroke="#000" stroke-width="1.9" fill="none"/>
<circle cx="398.00" cy="581.80" r="4.8" fill="#000"/>
<path d="M414.80,551.10 H424.00 M419.40,551.10 V573.80 M414.80,573.80 H424.00" stroke="#000" stroke-width="1.9" fill="none"/>
<circle cx="419.40" cy="561.90" r="4.8" fill="#000"/>
<path d="M78.00,849.20 V1111.70" stroke="#000" stroke-width="3.2" fill="none"/>
<path d="M64.90,1098.90 H449.60" stroke="#000" stroke-width="3.2" fill="none"/>
<path d="M64.90,1049.28 H78.00" stroke="#000" stroke-width="3.2" fill="none"/>
<path d="M64.90,999.66 H78.00" stroke="#000" stroke-width="3.2" fill="none"/>
<path d="M64.90,950.04 H78.00" stroke="#000" stroke-width="3.2" fill="none"/>
<path d="M64.90,900.42 H78.00" stroke="#000" stroke-width="3.2" fill="none"/>
<path d="M64.90,850.80 H78.00" stroke="#000" stroke-width="3.2" fill="none"/>
<path d="M170.50,1098.90 V1111.70" stroke="#000" stroke-width="3.2" fill="none"/>
<path d="M263.00,1098.90 V1111.70" stroke="#000" stroke-width="3.2" fill="none"/>
<path d="M355.50,1098.90 V1111.70" stroke="#000" stroke-width="3.2" fill="none"/>
<path d="M448.00,1098.90 V1111.70" stroke="#000" stroke-width="3.2" fill="none"/>
<path d="M78.00,1098.84 L79.39,1098.84 L80.78,1098.84 L82.16,1098.84 L83.55,1098.83 L84.94,1098.83 L86.33,1098.83 L87.71,1098.82 L89.10,1098.82 L90.49,1098.81 L91.88,1098.81 L93.26,1098.81 L94.65,1098.80 L96.04,1098.80 L97.42,1098.79 L98.81,1098.79 L100.20,1098.78 L101.59,1098.77 L102.97,1098.77 L104.36,1098.76 L105.75,1098.75 L107.14,1098.75 L108.53,1098.74 L109.91,1098.73 L111.30,1098.72 L112.69,1098.72 L114.08,1098.71 L115.46,1098.70 L116.85,1098.69 L118.24,1098.68 L119.62,1098.67 L121.01,1098.66 L122.40,1098.64 L123.79,1098.63 L125.18,1098.62 L126.56,1098.60 L127.95,1098.59 L129.34,1098.57 L130.73,1098.56 L132.11,1098.54 L133.50,1098.52 L134.89,1098.51 L136.28,1098.49 L137.66,1098.47 L139.05,1098.44 L140.44,1098.42 L141.82,1098.40 L143.21,1098.38 L144.60,1098.35 L145.99,1098.32 L147.38,1098.29 L148.76,1098.27 L150.15,1098.23 L151.54,1098.20 L152.93,1098.17 L154.31,1098.13 L155.70,1098.09 L157.09,1098.06 L158.47,1098.01 L159.86,1097.97 L161.25,1097.93 L162.64,1097.88 L164.03,1097.83 L165.41,1097.78 L166.80,1097.72 L168.19,1097.66 L169.57,1097.60 L170.96,1097.54 L172.35,1097.48 L173.74,1097.41 L175.12,1097.33 L176.51,1097.26 L177.90,1097.18 L179.29,1097.10 L180.68,1097.01 L182.06,1096.92 L183.45,1096.82 L184.84,1096.72 L186.23,1096.61 L187.61,1096.50 L189.00,1096.39 L190.39,1096.27 L191.77,1096.14 L193.16,1096.00 L194.55,1095.87 L195.94,1095.72 L197.32,1095.57 L198.71,1095.40 L200.10,1095.24 L201.49,1095.06 L202.88,1094.88 L204.26,1094.68 L205.65,1094.48 L207.04,1094.27 L208.43,1094.05 L209.81,1093.81 L211.20,1093.57 L212.59,1093.32 L213.97,1093.05 L215.36,1092.77 L216.75,1092.48 L218.14,1092.18 L219.53,1091.86 L220.91,1091.52 L222.30,1091.17 L223.69,1090.81 L225.08,1090.43 L226.46,1090.03 L227.85,1089.61 L229.24,1089.17 L230.62,1088.72 L232.01,1088.24 L233.40,1087.74 L234.79,1087.22 L236.18,1086.68 L237.56,1086.12 L238.95,1085.53 L240.34,1084.91 L241.72,1084.27 L243.11,1083.59 L244.50,1082.90 L245.89,1082.17 L247.27,1081.41 L248.66,1080.61 L250.05,1079.79 L251.44,1078.93 L252.83,1078.04 L254.21,1077.11 L255.60,1076.14 L256.99,1075.14 L258.38,1074.09 L259.76,1073.01 L261.15,1071.88 L262.54,1070.71 L263.93,1069.49 L265.31,1068.24 L266.70,1066.93 L268.09,1065.58 L269.48,1064.18 L270.86,1062.73 L272.25,1061.23 L273.64,1059.68 L275.02,1058.08 L276.41,1056.43 L277.80,1054.72 L279.19,1052.96 L280.57,1051.15 L281.96,1049.29 L283.35,1047.36 L284.74,1045.39 L286.12,1043.36 L287.51,1041.28 L288.90,1039.14 L290.29,1036.95 L291.68,1034.71 L293.06,1032.41 L294.45,1030.06 L295.84,1027.67 L297.23,1025.22 L298.61,1022.73 L300.00,1020.19 L301.39,1017.60 L302.77,1014.97 L304.16,1012.30 L305.55,1009.59 L306.94,1006.85 L308.33,1004.07 L309.71,1001.26 L311.10,998.42 L312.49,995.56 L313.88,992.67 L315.26,989.77 L316.65,986.84 L318.04,983.91 L319.42,980.96 L320.81,978.01 L322.20,975.05 L323.59,972.09 L324.98,969.13 L326.36,966.19 L327.75,963.25 L329.14,960.32 L330.52,957.41 L331.91,954.52 L333.30,951.66 L334.69,948.81 L336.07,946.00 L337.46,943.22 L338.85,940.47 L340.24,937.76 L341.62,935.08 L343.01,932.45 L344.40,929.86 L345.79,927.31 L347.17,924.81 L348.56,922.36 L349.95,919.95 L351.34,917.60 L352.73,915.30 L354.11,913.05 L355.50,910.85 L356.89,908.70 L358.28,906.61 L359.66,904.58 L361.05,902.60 L362.44,900.67 L363.83,898.79 L365.21,896.97 L366.60,895.21 L367.99,893.50 L369.38,891.84 L370.76,890.23 L372.15,888.67 L373.54,887.17 L374.93,885.71 L376.31,884.31 L377.70,882.95 L379.09,881.64 L380.48,880.37 L381.86,879.15 L383.25,877.97 L384.64,876.84 L386.03,875.75 L387.41,874.70 L388.80,873.69 L390.19,872.72 L391.57,871.78 L392.96,870.89 L394.35,870.02 L395.74,869.19 L397.12,868.40 L398.51,867.63 L399.90,866.90 L401.29,866.20 L402.67,865.52 L404.06,864.88 L405.45,864.26 L406.84,863.66 L408.23,863.09 L409.61,862.55 L411.00,862.02" fill="none" stroke="#828282" stroke-width="2.5" stroke-linejoin="round"/>
<path d="M78.00,1098.67 L79.39,1098.66 L80.78,1098.65 L82.16,1098.64 L83.55,1098.63 L84.94,1098.62 L86.33,1098.61 L87.71,1098.60 L89.10,1098.59 L90.49,1098.57 L91.88,1098.56 L93.26,1098.55 L94.65,1098.54 L96.04,1098.52 L97.42,1098.51 L98.81,1098.49 L100.20,1098.48 L101.59,1098.46 L102.97,1098.44 L104.36,1098.42 L105.75,1098.41 L107.14,1098.39 L108.53,1098.37 L109.91,1098.35 L111.30,1098.32 L112.69,1098.30 L114.08,1098.28 L115.46,1098.25 L116.85,1098.23 L118.24,1098.20 L119.62,1098.18 L121.01,1098.15 L122.40,1098.12 L123.79,1098.09 L125.18,1098.06 L126.56,1098.03 L127.95,1097.99 L129.34,1097.96 L130.73,1097.92 L132.11,1097.88 L133.50,1097.84 L134.89,1097.80 L136.28,1097.76 L137.66,1097.72 L139.05,1097.67 L140.44,1097.62 L141.82,1097.57 L143.21,1097.52 L144.60,1097.47 L145.99,1097.41 L147.38,1097.35 L148.76,1097.30 L150.15,1097.23 L151.54,1097.17 L152.93,1097.10 L154.31,1097.03 L155.70,1096.96 L157.09,1096.89 L158.47,1096.81 L159.86,1096.73 L161.25,1096.64 L162.64,1096.56 L164.03,1096.47 L165.41,1096.37 L166.80,1096.28 L168.19,1096.18 L169.57,1096.07 L170.96,1095.96 L172.35,1095.85 L173.74,1095.73 L175.12,1095.61 L176.51,1095.49 L177.90,1095.35 L179.29,1095.22 L180.68,1095.08 L182.06,1094.93 L183.45,1094.78 L184.84,1094.62 L186.23,1094.46 L187.61,1094.29 L189.00,1094.12 L190.39,1093.93 L191.77,1093.74 L193.16,1093.55 L194.55,1093.34 L195.94,1093.13 L197.32,1092.92 L198.71,1092.69 L200.10,1092.45 L201.49,1092.21 L202.88,1091.96 L204.26,1091.70 L205.65,1091.42 L207.04,1091.14 L208.43,1090.85 L209.81,1090.55 L211.20,1090.24 L212.59,1089.91 L213.97,1089.58 L215.36,1089.23 L216.75,1088.87 L218.14,1088.50 L219.53,1088.11 L220.91,1087.71 L222.30,1087.30 L223.69,1086.87 L225.08,1086.42 L226.46,1085.96 L227.85,1085.49 L229.24,1085.00 L230.62,1084.49 L232.01,1083.97 L233.40,1083.42 L234.79,1082.86 L236.18,1082.28 L237.56,1081.68 L238.95,1081.06 L240.34,1080.42 L241.72,1079.76 L243.11,1079.08 L244.50,1078.37 L245.89,1077.64 L247.27,1076.89 L248.66,1076.12 L250.05,1075.32 L251.44,1074.49 L252.83,1073.64 L254.21,1072.77 L255.60,1071.87 L256.99,1070.94 L258.38,1069.98 L259.76,1069.00 L261.15,1067.98 L262.54,1066.94 L263.93,1065.87 L265.31,1064.76 L266.70,1063.63 L268.09,1062.47 L269.48,1061.27 L270.86,1060.04 L272.25,1058.78 L273.64,1057.49 L275.02,1056.17 L276.41,1054.81 L277.80,1053.42 L279.19,1051.99 L280.57,1050.54 L281.96,1049.04 L283.35,1047.52 L284.74,1045.96 L286.12,1044.37 L287.51,1042.74 L288.90,1041.08 L290.29,1039.38 L291.68,1037.66 L293.06,1035.90 L294.45,1034.11 L295.84,1032.28 L297.23,1030.43 L298.61,1028.54 L300.00,1026.62 L301.39,1024.68 L302.77,1022.70 L304.16,1020.70 L305.55,1018.67 L306.94,1016.61 L308.33,1014.53 L309.71,1012.42 L311.10,1010.30 L312.49,1008.14 L313.88,1005.97 L315.26,1003.78 L316.65,1001.58 L318.04,999.35 L319.42,997.11 L320.81,994.86 L322.20,992.59 L323.59,990.32 L324.98,988.03 L326.36,985.74 L327.75,983.45 L329.14,981.15 L330.52,978.84 L331.91,976.54 L333.30,974.24 L334.69,971.94 L336.07,969.64 L337.46,967.35 L338.85,965.07 L340.24,962.80 L341.62,960.54 L343.01,958.29 L344.40,956.06 L345.79,953.84 L347.17,951.63 L348.56,949.45 L349.95,947.29 L351.34,945.14 L352.73,943.02 L354.11,940.92 L355.50,938.85 L356.89,936.80 L358.28,934.78 L359.66,932.79 L361.05,930.82 L362.44,928.89 L363.83,926.98 L365.21,925.10 L366.60,923.26 L367.99,921.44 L369.38,919.66 L370.76,917.91 L372.15,916.20 L373.54,914.52 L374.93,912.87 L376.31,911.25 L377.70,909.67 L379.09,908.12 L380.48,906.61 L381.86,905.12 L383.25,903.68 L384.64,902.26 L386.03,900.88 L387.41,899.54 L388.80,898.22 L390.19,896.94 L391.57,895.69 L392.96,894.48 L394.35,893.29 L395.74,892.14 L397.12,891.02 L398.51,889.92 L399.90,888.86 L401.29,887.83 L402.67,886.82 L404.06,885.85 L405.45,884.90 L406.84,883.98 L408.23,883.09 L409.61,882.22 L411.00,881.38" fill="none" stroke="#a2a2a6" stroke-width="2.5" stroke-linejoin="round"/>
<path d="M78.00,1098.31 L79.39,1098.29 L80.78,1098.27 L82.16,1098.25 L83.55,1098.23 L84.94,1098.21 L86.33,1098.18 L87.71,1098.16 L89.10,1098.14 L90.49,1098.11 L91.88,1098.09 L93.26,1098.06 L94.65,1098.03 L96.04,1098.01 L97.42,1097.98 L98.81,1097.95 L100.20,1097.92 L101.59,1097.89 L102.97,1097.85 L104.36,1097.82 L105.75,1097.78 L107.14,1097.75 L108.53,1097.71 L109.91,1097.67 L111.30,1097.63 L112.69,1097.59 L114.08,1097.55 L115.46,1097.51 L116.85,1097.46 L118.24,1097.42 L119.62,1097.37 L121.01,1097.32 L122.40,1097.27 L123.79,1097.22 L125.18,1097.16 L126.56,1097.11 L127.95,1097.05 L129.34,1096.99 L130.73,1096.93 L132.11,1096.87 L133.50,1096.80 L134.89,1096.73 L136.28,1096.67 L137.66,1096.59 L139.05,1096.52 L140.44,1096.44 L141.82,1096.37 L143.21,1096.28 L144.60,1096.20 L145.99,1096.11 L147.38,1096.03 L148.76,1095.93 L150.15,1095.84 L151.54,1095.74 L152.93,1095.64 L154.31,1095.54 L155.70,1095.43 L157.09,1095.32 L158.47,1095.21 L159.86,1095.09 L161.25,1094.97 L162.64,1094.84 L164.03,1094.71 L165.41,1094.58 L166.80,1094.44 L168.19,1094.30 L169.57,1094.16 L170.96,1094.01 L172.35,1093.85 L173.74,1093.69 L175.12,1093.53 L176.51,1093.36 L177.90,1093.18 L179.29,1093.00 L180.68,1092.82 L182.06,1092.63 L183.45,1092.43 L184.84,1092.23 L186.23,1092.02 L187.61,1091.80 L189.00,1091.58 L190.39,1091.35 L191.77,1091.11 L193.16,1090.87 L194.55,1090.62 L195.94,1090.36 L197.32,1090.10 L198.71,1089.82 L200.10,1089.54 L201.49,1089.25 L202.88,1088.95 L204.26,1088.64 L205.65,1088.33 L207.04,1088.00 L208.43,1087.66 L209.81,1087.32 L211.20,1086.96 L212.59,1086.60 L213.97,1086.22 L215.36,1085.83 L216.75,1085.43 L218.14,1085.02 L219.53,1084.60 L220.91,1084.16 L222.30,1083.72 L223.69,1083.26 L225.08,1082.79 L226.46,1082.30 L227.85,1081.80 L229.24,1081.29 L230.62,1080.76 L232.01,1080.22 L233.40,1079.66 L234.79,1079.09 L236.18,1078.51 L237.56,1077.90 L238.95,1077.28 L240.34,1076.65 L241.72,1076.00 L243.11,1075.33 L244.50,1074.64 L245.89,1073.94 L247.27,1073.21 L248.66,1072.47 L250.05,1071.71 L251.44,1070.94 L252.83,1070.14 L254.21,1069.32 L255.60,1068.48 L256.99,1067.62 L258.38,1066.74 L259.76,1065.84 L261.15,1064.92 L262.54,1063.98 L263.93,1063.02 L265.31,1062.03 L266.70,1061.02 L268.09,1059.99 L269.48,1058.94 L270.86,1057.86 L272.25,1056.76 L273.64,1055.64 L275.02,1054.49 L276.41,1053.32 L277.80,1052.12 L279.19,1050.91 L280.57,1049.66 L281.96,1048.40 L283.35,1047.11 L284.74,1045.79 L286.12,1044.46 L287.51,1043.09 L288.90,1041.71 L290.29,1040.30 L291.68,1038.86 L293.06,1037.40 L294.45,1035.92 L295.84,1034.42 L297.23,1032.89 L298.61,1031.34 L300.00,1029.77 L301.39,1028.17 L302.77,1026.55 L304.16,1024.91 L305.55,1023.25 L306.94,1021.57 L308.33,1019.87 L309.71,1018.15 L311.10,1016.41 L312.49,1014.65 L313.88,1012.87 L315.26,1011.08 L316.65,1009.27 L318.04,1007.44 L319.42,1005.60 L320.81,1003.74 L322.20,1001.87 L323.59,999.99 L324.98,998.09 L326.36,996.18 L327.75,994.27 L329.14,992.34 L330.52,990.40 L331.91,988.46 L333.30,986.51 L334.69,984.55 L336.07,982.59 L337.46,980.63 L338.85,978.66 L340.24,976.69 L341.62,974.72 L343.01,972.75 L344.40,970.78 L345.79,968.81 L347.17,966.85 L348.56,964.89 L349.95,962.93 L351.34,960.98 L352.73,959.04 L354.11,957.10 L355.50,955.18 L356.89,953.26 L358.28,951.36 L359.66,949.46 L361.05,947.58 L362.44,945.71 L363.83,943.85 L365.21,942.01 L366.60,940.19 L367.99,938.38 L369.38,936.59 L370.76,934.81 L372.15,933.06 L373.54,931.32 L374.93,929.60 L376.31,927.90 L377.70,926.22 L379.09,924.57 L380.48,922.93 L381.86,921.32 L383.25,919.72 L384.64,918.15 L386.03,916.60 L387.41,915.08 L388.80,913.58 L390.19,912.10 L391.57,910.64 L392.96,909.21 L394.35,907.81 L395.74,906.42 L397.12,905.06 L398.51,903.73 L399.90,902.42 L401.29,901.13 L402.67,899.87 L404.06,898.63 L405.45,897.41 L406.84,896.22 L408.23,895.06 L409.61,893.91 L411.00,892.79" fill="none" stroke="#000" stroke-width="2.5" stroke-linejoin="round"/>
<path d="M295.70,1012.00 H304.90 M300.30,1012.00 V1027.00 M295.70,1027.00 H304.90" stroke="#828282" stroke-width="1.9" fill="none"/>
<path d="M300.30,1015.94 L305.40,1025.14 L295.20,1025.14 Z" fill="#828282"/>
<path d="M323.10,946.60 H332.30 M327.70,946.60 V981.00 M323.10,981.00 H332.30" stroke="#828282" stroke-width="1.9" fill="none"/>
<path d="M327.70,962.64 L332.80,971.84 L322.60,971.84 Z" fill="#828282"/>
<path d="M350.40,891.10 H359.60 M355.00,891.10 V910.70 M350.40,910.70 H359.60" stroke="#828282" stroke-width="1.9" fill="none"/>
<path d="M355.00,896.24 L360.10,905.44 L349.90,905.44 Z" fill="#828282"/>
<path d="M378.50,876.90 H387.70 M383.10,876.90 V900.00 M378.50,900.00 H387.70" stroke="#828282" stroke-width="1.9" fill="none"/>
<path d="M383.10,882.54 L388.20,891.74 L378.00,891.74 Z" fill="#828282"/>
<path d="M406.30,868.00 H415.50 M410.90,868.00 V880.00 M406.30,880.00 H415.50" stroke="#828282" stroke-width="1.9" fill="none"/>
<path d="M410.90,868.94 L416.00,878.14 L405.80,878.14 Z" fill="#828282"/>
<path d="M295.70,1011.10 H304.90 M300.30,1011.10 V1026.00 M295.70,1026.00 H304.90" stroke="#a2a2a6" stroke-width="1.9" fill="none"/>
<rect x="295.30" y="1014.80" width="10" height="10" fill="#a2a2a6"/>
<path d="M323.10,976.00 H332.30 M327.70,976.00 V992.00 M323.10,992.00 H332.30" stroke="#a2a2a6" stroke-width="1.9" fill="none"/>
<rect x="322.70" y="979.20" width="10" height="10" fill="#a2a2a6"/>
<path d="M350.40,931.20 H359.60 M355.00,931.20 V948.00 M350.40,948.00 H359.60" stroke="#a2a2a6" stroke-width="1.9" fill="none"/>
<rect x="350.00" y="935.40" width="10" height="10" fill="#a2a2a6"/>
<path d="M378.50,899.20 H387.70 M383.10,899.20 V909.60 M378.50,909.60 H387.70" stroke="#a2a2a6" stroke-width="1.9" fill="none"/>
<rect x="378.10" y="899.40" width="10" height="10" fill="#a2a2a6"/>
<rect x="406.15" y="868.05" width="9.5" height="12.5" fill="#a2a2a6"/>
<rect x="73.00" y="1093.90" width="10" height="10" fill="#a2a2a6"/>
<circle cx="78.00" cy="1098.90" r="4.8" fill="#000"/>
<path d="M295.00,1022.50 H304.20 M299.60,1022.50 V1051.00 M295.00,1051.00 H304.20" stroke="#000" stroke-width="1.9" fill="none"/>
<circle cx="299.60" cy="1036.40" r="4.8" fill="#000"/>
<path d="M323.10,980.80 H332.30 M327.70,980.80 V999.80 M323.10,999.80 H332.30" stroke="#000" stroke-width="1.9" fill="none"/>
<circle cx="327.70" cy="990.20" r="4.8" fill="#000"/>
<path d="M350.40,940.80 H359.60 M355.00,940.80 V960.00 M350.40,960.00 H359.60" stroke="#000" stroke-width="1.9" fill="none"/>
<circle cx="355.00" cy="950.30" r="4.8" fill="#000"/>
<path d="M378.50,918.50 H387.70 M383.10,918.50 V929.40 M378.50,929.40 H387.70" stroke="#000" stroke-width="1.9" fill="none"/>
<circle cx="383.10" cy="923.90" r="4.8" fill="#000"/>
<path d="M406.30,888.50 H415.50 M410.90,888.50 V900.20 M406.30,900.20 H415.50" stroke="#000" stroke-width="1.9" fill="none"/>
<circle cx="410.90" cy="894.70" r="4.8" fill="#000"/>
<g style="filter:grayscale(1)" stroke="#000" stroke-width="0.35" stroke-linejoin="round">
<text x="31.00" y="21.30" font-family="Liberation Serif" font-size="26" font-weight="bold" font-style="normal" text-anchor="start" >(a)</text>
<text x="257.40" y="27.70" font-family="Liberation Sans" font-size="20" font-weight="bold" font-style="normal" text-anchor="middle" >Larvae</text>
<text x="60.00" y="311.30" font-family="Liberation Sans" font-size="18.7" font-weight="bold" font-style="normal" text-anchor="end" >0</text>
<text x="60.00" y="262.87" font-family="Liberation Sans" font-size="18.7" font-weight="bold" font-style="normal" text-anchor="end" >20</text>
<text x="60.00" y="214.44" font-family="Liberation Sans" font-size="18.7" font-weight="bold" font-style="normal" text-anchor="end" >40</text>
<text x="60.00" y="166.01" font-family="Liberation Sans" font-size="18.7" font-weight="bold" font-style="normal" text-anchor="end" >60</text>
<text x="60.00" y="117.58" font-family="Liberation Sans" font-size="18.7" font-weight="bold" font-style="normal" text-anchor="end" >80</text>
<text x="60.00" y="69.15" font-family="Liberation Sans" font-size="18.7" font-weight="bold" font-style="normal" text-anchor="end" >100</text>
<text x="75.50" y="338.30" font-family="Liberation Sans" font-size="18.7" font-weight="bold" font-style="normal" text-anchor="middle" >0</text>
<text x="166.45" y="338.30" font-family="Liberation Sans" font-size="18.7" font-weight="bold" font-style="normal" text-anchor="middle" >1</text>
<text x="257.40" y="338.30" font-family="Liberation Sans" font-size="18.7" font-weight="bold" font-style="normal" text-anchor="middle" >2</text>
<text x="348.35" y="338.30" font-family="Liberation Sans" font-size="18.7" font-weight="bold" font-style="normal" text-anchor="middle" >3</text>
<text x="439.30" y="338.30" font-family="Liberation Sans" font-size="18.7" font-weight="bold" font-style="normal" text-anchor="middle" >4</text>
<text x="157.50" y="369.00" font-family="Liberation Sans" font-size="18" font-weight="bold" font-style="normal" text-anchor="start" >Log</text>
<text x="190.50" y="372.40" font-family="Liberation Sans" font-size="13" font-weight="bold" font-style="normal" text-anchor="start" >10</text>
<text x="209.50" y="369.00" font-family="Liberation Sans" font-size="18" font-weight="bold" font-style="normal" text-anchor="start" textLength="147" lengthAdjust="spacingAndGlyphs">(Concentrations)</text>
<text x="0" y="0" font-family="Liberation Sans" font-size="19" font-weight="bold" text-anchor="middle" textLength="112.2" lengthAdjust="spacingAndGlyphs" transform="translate(15.60,185.25) rotate(-90)">Mortality (%)</text>
<text x="514.60" y="85.20" font-family="Liberation Sans" font-size="18" font-weight="normal" font-style="italic" text-anchor="start" textLength="92.5" lengthAdjust="spacingAndGlyphs">Ae. aegypti</text>
<text x="514.60" y="120.13" font-family="Liberation Sans" font-size="18" font-weight="normal" font-style="italic" text-anchor="start" textLength="117" lengthAdjust="spacingAndGlyphs">Ae. albopictus</text>
<text x="514.60" y="155.06" font-family="Liberation Sans" font-size="18" font-weight="normal" font-style="italic" text-anchor="start" textLength="97.5" lengthAdjust="spacingAndGlyphs">An. cracens</text>
<text x="514.60" y="189.99" font-family="Liberation Sans" font-size="18" font-weight="normal" font-style="italic" text-anchor="start" textLength="173" lengthAdjust="spacingAndGlyphs">Cx. quinquefasciatus</text>
<text x="41.00" y="418.20" font-family="Liberation Serif" font-size="26" font-weight="bold" font-style="normal" text-anchor="start" >(b)</text>
<text x="263.50" y="417.20" font-family="Liberation Sans" font-size="20" font-weight="bold" font-style="normal" text-anchor="middle" >Adults</text>
<text x="61.80" y="704.60" font-family="Liberation Sans" font-size="18.7" font-weight="bold" font-style="normal" text-anchor="end" >0</text>
<text x="61.80" y="655.06" font-family="Liberation Sans" font-size="18.7" font-weight="bold" font-style="normal" text-anchor="end" >20</text>
<text x="61.80" y="605.52" font-family="Liberation Sans" font-size="18.7" font-weight="bold" font-style="normal" text-anchor="end" >40</text>
<text x="61.80" y="555.98" font-family="Liberation Sans" font-size="18.7" font-weight="bold" font-style="normal" text-anchor="end" >60</text>
<text x="61.80" y="506.44" font-family="Liberation Sans" font-size="18.7" font-weight="bold" font-style="normal" text-anchor="end" >80</text>
<text x="61.80" y="456.90" font-family="Liberation Sans" font-size="18.7" font-weight="bold" font-style="normal" text-anchor="end" >100</text>
<text x="78.00" y="732.30" font-family="Liberation Sans" font-size="18.7" font-weight="bold" font-style="normal" text-anchor="middle" >0</text>
<text x="152.30" y="732.30" font-family="Liberation Sans" font-size="18.7" font-weight="bold" font-style="normal" text-anchor="middle" >1</text>
<text x="226.60" y="732.30" font-family="Liberation Sans" font-size="18.7" font-weight="bold" font-style="normal" text-anchor="middle" >2</text>
<text x="300.90" y="732.30" font-family="Liberation Sans" font-size="18.7" font-weight="bold" font-style="normal" text-anchor="middle" >3</text>
<text x="375.20" y="732.30" font-family="Liberation Sans" font-size="18.7" font-weight="bold" font-style="normal" text-anchor="middle" >4</text>
<text x="449.50" y="732.30" font-family="Liberation Sans" font-size="18.7" font-weight="bold" font-style="normal" text-anchor="middle" >5</text>
<text x="162.00" y="765.00" font-family="Liberation Sans" font-size="18" font-weight="bold" font-style="normal" text-anchor="start" >Log</text>
<text x="195.00" y="768.40" font-family="Liberation Sans" font-size="13" font-weight="bold" font-style="normal" text-anchor="start" >10</text>
<text x="215.30" y="765.00" font-family="Liberation Sans" font-size="18" font-weight="bold" font-style="normal" text-anchor="start" textLength="150" lengthAdjust="spacingAndGlyphs">(Concentrations)</text>
<text x="0" y="0" font-family="Liberation Sans" font-size="19" font-weight="bold" text-anchor="middle" textLength="115.1" lengthAdjust="spacingAndGlyphs" transform="translate(16.20,576.10) rotate(-90)">Mortality (%)</text>
<text x="51.50" y="820.70" font-family="Liberation Serif" font-size="26" font-weight="bold" font-style="normal" text-anchor="start" >(c)</text>
<text x="263.00" y="817.20" font-family="Liberation Sans" font-size="20" font-weight="bold" font-style="normal" text-anchor="middle" >Eggs</text>
<text x="61.80" y="1106.10" font-family="Liberation Sans" font-size="18.7" font-weight="bold" font-style="normal" text-anchor="end" >0</text>
<text x="61.80" y="1056.48" font-family="Liberation Sans" font-size="18.7" font-weight="bold" font-style="normal" text-anchor="end" >20</text>
<text x="61.80" y="1006.86" font-family="Liberation Sans" font-size="18.7" font-weight="bold" font-style="normal" text-anchor="end" >40</text>
<text x="61.80" y="957.24" font-family="Liberation Sans" font-size="18.7" font-weight="bold" font-style="normal" text-anchor="end" >60</text>
<text x="61.80" y="907.62" font-family="Liberation Sans" font-size="18.7" font-weight="bold" font-style="normal" text-anchor="end" >80</text>
<text x="61.80" y="858.00" font-family="Liberation Sans" font-size="18.7" font-weight="bold" font-style="normal" text-anchor="end" >100</text>
<text x="78.00" y="1133.60" font-family="Liberation Sans" font-size="18.7" font-weight="bold" font-style="normal" text-anchor="middle" >0</text>
<text x="170.50" y="1133.60" font-family="Liberation Sans" font-size="18.7" font-weight="bold" font-style="normal" text-anchor="middle" >1</text>
<text x="263.00" y="1133.60" font-family="Liberation Sans" font-size="18.7" font-weight="bold" font-style="normal" text-anchor="middle" >2</text>
<text x="355.50" y="1133.60" font-family="Liberation Sans" font-size="18.7" font-weight="bold" font-style="normal" text-anchor="middle" >3</text>
<text x="448.00" y="1133.60" font-family="Liberation Sans" font-size="18.7" font-weight="bold" font-style="normal" text-anchor="middle" >4</text>
<text x="161.00" y="1164.50" font-family="Liberation Sans" font-size="18" font-weight="bold" font-style="normal" text-anchor="start" >Log</text>
<text x="214.60" y="1164.50" font-family="Liberation Sans" font-size="18" font-weight="bold" font-style="normal" text-anchor="start" textLength="150.3" lengthAdjust="spacingAndGlyphs">(Concentrations)</text>
<text x="0" y="0" font-family="Liberation Sans" font-size="19" font-weight="bold" text-anchor="middle" textLength="114.4" lengthAdjust="spacingAndGlyphs" transform="translate(16.20,977.85) rotate(-90)">Mortality (%)</text>
</g>
</svg>
</body></html>
